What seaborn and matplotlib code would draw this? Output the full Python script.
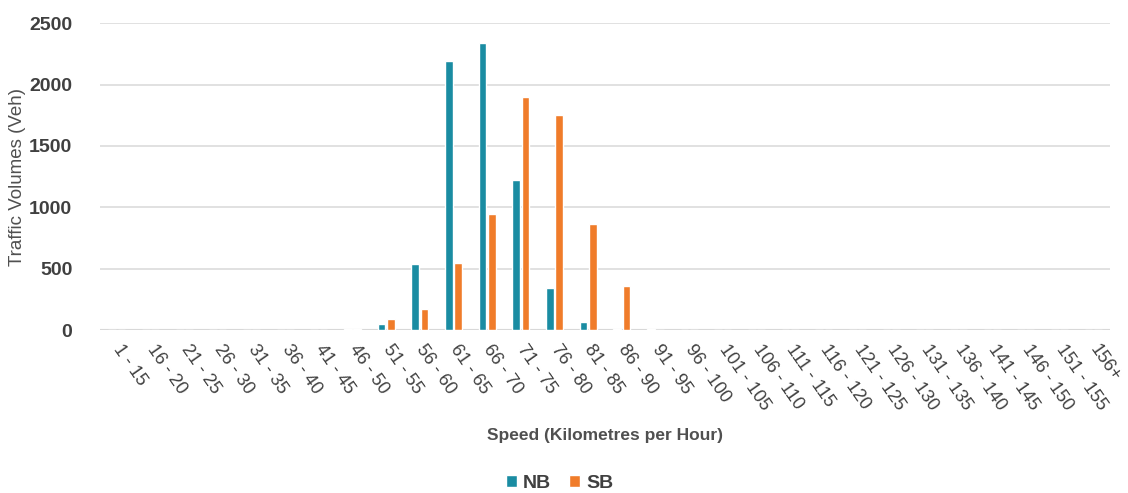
import matplotlib
matplotlib.use("Agg")
import matplotlib.pyplot as plt
import seaborn as sns
import pandas as pd

# speed bins (km/h)
speed_bins = ['1 - 15', '16 - 20', '21 - 25', '26 - 30', '31 - 35', '36 - 40',
              '41 - 45', '46 - 50', '51 - 55', '56 - 60', '61 - 65', '66 - 70',
              '71 - 75', '76 - 80', '81 - 85', '86 - 90', '91 - 95', '96 - 100',
              '101 - 105', '106 - 110', '111 - 115', '116 - 120', '121 - 125',
              '126 - 130', '131 - 135', '136 - 140', '141 - 145', '146 - 150',
              '151 - 155', '156+']

nb_volumes = [0, 0, 0, 0, 0, 0, 0, 10, 50, 535, 2190, 2335, 1225, 345, 68, 10, 6,
              0, 0, 0, 0, 0, 0, 0, 0, 0, 0, 0, 0, 0]
sb_volumes = [0, 0, 0, 0, 0, 0, 0, 10, 90, 172, 548, 948, 1898, 1752, 860, 362, 0,
              0, 0, 0, 0, 0, 0, 0, 0, 0, 0, 0, 0, 0]

directions = ['NB', 'SB']
colors = {'NB': '#1a8ca2', 'SB': '#f07c2a'}

df = pd.DataFrame({
    'Speed': speed_bins * 2,
    'Volume': nb_volumes + sb_volumes,
    'Direction': ['NB'] * len(speed_bins) + ['SB'] * len(speed_bins),
})

sns.set_theme(style='white')
plt.rcParams['font.family'] = ['Liberation Sans', 'DejaVu Sans']

fig = plt.figure(figsize=(11.28, 4.93), dpi=100)
ax = fig.add_axes([0.0887, 0.3306, 0.8953, 0.6224])

sns.barplot(data=df, x='Speed', y='Volume', hue='Direction', order=speed_bins,
            hue_order=directions, palette=colors, width=0.55, gap=0.15,
            saturation=1, ax=ax)

ax.set_ylim(0, 2500)
ax.set_xlim(-0.5, len(speed_bins) - 0.5)
ax.set_yticks([0, 500, 1000, 1500, 2000, 2500])
ax.yaxis.grid(True, color='#dcdcdc', linewidth=1.2)
ax.set_axisbelow(True)
sns.despine(ax=ax, left=True, bottom=True)
ax.axhline(0, color='#c8c8c8', linewidth=1.5, zorder=0)
ax.tick_params(axis='both', length=0)
ax.tick_params(axis='y', pad=20)

for lbl in ax.get_yticklabels():
    lbl.set_fontsize(14)
    lbl.set_fontweight('bold')
    lbl.set_color('#404040')

ax.set_xticks(range(len(speed_bins)))
ax.set_xticklabels(speed_bins, rotation=-55, ha='left', va='center',
                   rotation_mode='anchor', fontsize=13, color='#404040')
ax.tick_params(axis='x', pad=12)

ax.set_ylabel('Traffic Volumes (Veh)', fontsize=13.5, color='#505050', labelpad=2)
ax.set_xlabel('Speed (Kilometres per Hour)', fontsize=12.5, fontweight='bold',
              color='#505050', labelpad=10)

handles, labels = ax.get_legend_handles_labels()
ax.legend(handles, labels, loc='center', bbox_to_anchor=(0.455, -0.50),
          ncol=2, frameon=False, handlelength=0.6, handleheight=0.6,
          handletextpad=0.3, columnspacing=0.9,
          prop={'size': 14, 'weight': 'bold'}, labelcolor='#404040')

fig.savefig('out.png', dpi=100)
